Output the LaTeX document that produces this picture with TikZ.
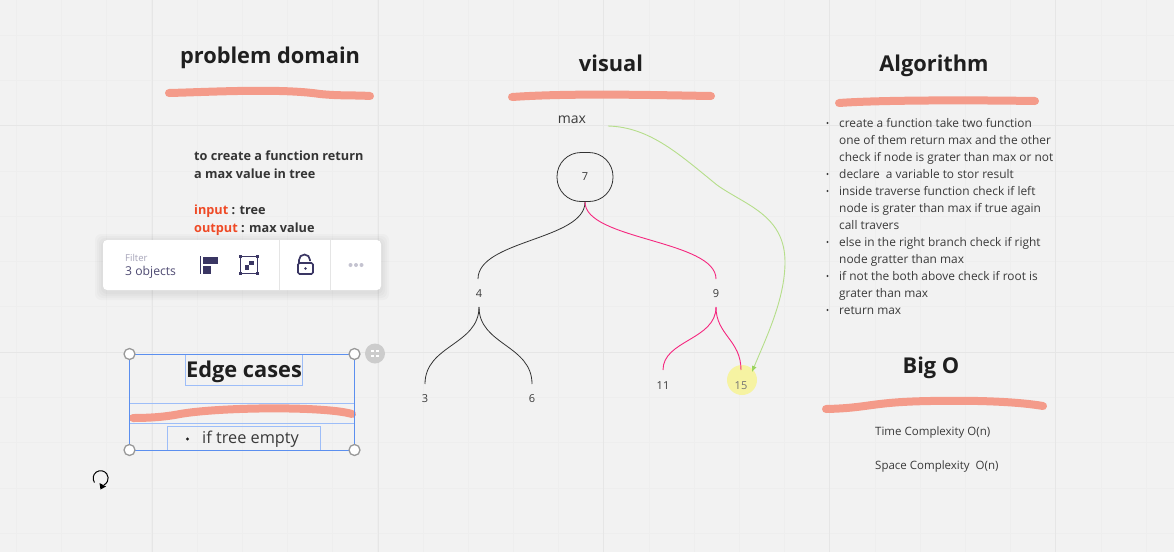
\documentclass[tikz,border=0pt]{standalone}
\usepackage{fontspec}
\setmainfont{Open Sans}
\usetikzlibrary{arrows.meta}
\definecolor{bgc}{HTML}{F2F2F2}
\definecolor{gridminor}{HTML}{EEEEEE}
\definecolor{gridmajor}{HTML}{E6E6E6}
\definecolor{salmon}{HTML}{F49B8A}
\definecolor{ink}{HTML}{1F1F1F}
\definecolor{body}{HTML}{3A3A3A}
\definecolor{hot}{HTML}{F5277F}
\definecolor{lime}{HTML}{B5DE8A}
\definecolor{limehead}{HTML}{9AD45F}
\definecolor{sel}{HTML}{5B8FEF}
\definecolor{selsoft}{HTML}{9DBDF8}
\definecolor{navy}{HTML}{3A3663}
\definecolor{orangered}{HTML}{EF4A26}
\definecolor{marker}{HTML}{F6F3A2}
\tikzset{
  heading/.style={font=\fontsize{21.8}{26}\selectfont\bfseries,text=ink,inner sep=0pt,anchor=base},
  numlabel/.style={font=\fontsize{11}{13}\selectfont,text=body,inner sep=0pt},
  stroke/.style={draw=salmon,line width=8pt,line cap=round,line join=round},
  edgeblack/.style={draw=black!80,line width=0.8pt},
  edgehot/.style={draw=hot,line width=0.9pt},
  textblock/.style={font=\fontsize{11.9}{17}\selectfont,text=body,inner sep=0pt,align=left,anchor=north west},
  selthin/.style={draw=selsoft,line width=1pt},
  handle/.style={circle,draw=black!40,fill=white,line width=1.3pt,minimum size=11pt,inner sep=0pt},
  divider/.style={draw=black!10,line width=0.8pt},
}
\begin{document}
\begin{tikzpicture}[x=1pt,y=-1pt]
\useasboundingbox (0,0) rectangle (1174,552);
\fill[bgc] (0,0) rectangle (1174,552);
% grid
\foreach \i in {0,...,26}{\draw[gridminor,line width=0.7pt] ({-29+45.2*\i},0) -- ({-29+45.2*\i},552);}
\foreach \i in {0,...,12}{\draw[gridminor,line width=0.7pt] (0,{35+45.3*\i}) -- (1174,{35+45.3*\i});}
\foreach \x in {152,378,603,829,1055}{\draw[gridmajor,line width=0.8pt] (\x,0) -- (\x,552);}
\foreach \y in {125,352}{\draw[gridmajor,line width=0.8pt] (0,\y) -- (1174,\y);}

% headings
\node[heading] (hpd) at (270,63.5) {problem domain};
\node[heading] (hvis) at (611,71) {visual};
\node[heading] (halg) at (934,71) {Algorithm};
\node[heading] (hbig) at (931,373) {Big O};

% strokes
\draw[stroke] (169,93) .. controls (210,92) and (280,88) .. (320,94) .. controls (340,96) and (355,95) .. (370,96);
\draw[stroke] (512,97) .. controls (570,93) and (650,95) .. (711,96);
\draw[stroke] (839,103) .. controls (880,100) and (970,100) .. (1035,101);
\draw[stroke] (826,409) .. controls (870,408) and (870,402) .. (930,401) .. controls (980,400) and (1020,402) .. (1043,406);
\draw[stroke] (133,418) .. controls (155,418) and (170,416) .. (180,414) .. controls (220,407) and (325,406) .. (352,414);

% problem domain text
\node[anchor=north west,inner sep=0pt,align=left,font=\fontsize{12.7}{18}\selectfont\bfseries,text=ink!90] (ptext) at (194,150.5)
  {to create a function return\\a max value in tree\\[18pt]{\color{orangered}input} : tree\\{\color{orangered}output} : max value};

% visual
\node[font=\fontsize{14}{17}\selectfont,text=body,inner sep=0pt] (maxl) at (572,119.5) {max};
\node[edgeblack,rounded corners=24pt,minimum width=56pt,minimum height=49pt,inner sep=0pt,numlabel] (n7) at (585,177) {7};
\node[numlabel] (n4) at (479,294) {4};
\node[numlabel] (n9) at (716,294) {9};
\node[numlabel] (n3) at (425,399) {3};
\node[numlabel] (n6) at (532,399) {6};
\node[numlabel] (n11) at (663,386) {11};
\fill[marker] (742,380) circle (15pt);
\node[numlabel,text=black!55] (n15) at (741,386) {15};

\coordinate (a7) at (585,202);
\coordinate (a4t) at (478,279);
\coordinate (a9t) at (716,279);
\coordinate (a4b) at (479,307);
\coordinate (a9b) at (716,307);
\coordinate (a3) at (425,384);
\coordinate (a6) at (532,384);
\coordinate (a11) at (663,370);
\coordinate (a15) at (741,370);
\coordinate (maxout) at (608,126);
\coordinate (maxin) at (752,372);

\draw[edgeblack] (a7) .. controls (585,240) and (478,240) .. (a4t);
\draw[edgehot] (a7) .. controls (585,240) and (716,240) .. (a9t);
\draw[edgeblack] (a4b) .. controls (479,345) and (425,345) .. (a3);
\draw[edgeblack] (a4b) .. controls (479,345) and (532,345) .. (a6);
\draw[edgehot] (a9b) .. controls (716,340) and (663,340) .. (a11);
\draw[edgehot] (a9b) .. controls (716,335) and (741,340) .. (a15);
\draw[draw=lime,line width=0.9pt,-{Latex[length=6pt,width=5pt,color=limehead]}] (maxout) .. controls (650,127) and (680,155) .. (717,185) .. controls (745,205) and (785,215) .. (785,262) .. controls (785,300) and (765,340) .. (maxin);

% algorithm list
\node[textblock] (algtext) at (839,118) {create a function take two function\\one of them return max and the other\\check if node is grater than max or not\\declare\ \ a variable to stor result\\inside traverse function check if left\\node is grater than max if true again\\call travers\\else in the right branch check if right\\node gratter than max\\if not the both above check if root is\\grater than max\\return max};
\foreach \y/\n in {123/a,174/b,191/c,242/d,276/e,310/f}{
  \fill[body] (827.5,\y) circle (1.1pt) coordinate (bul\n);
}

% big O
\node[anchor=west,inner sep=0pt,font=\fontsize{11.5}{14}\selectfont,text=body] (t1) at (875,433) {Time Complexity O(n)};
\node[anchor=west,inner sep=0pt,font=\fontsize{11.5}{14}\selectfont,text=body] (t2) at (875,467) {Space Complexity\ \ O(n)};

% toolbar
\foreach \g in {8,6,4,2}{\fill[black,opacity=0.018,rounded corners=6pt] ({103-\g},{240-\g+2}) rectangle ({381+\g},{290+\g+2});}
\node[draw=none,fill=white,rounded corners=4pt,minimum width=278pt,minimum height=50pt,inner sep=0pt] (bar) at (242,265) {};
\draw[divider] (279.5,240) -- (279.5,290);
\draw[divider] (330.5,240) -- (330.5,290);
\node[anchor=west,inner sep=0pt,font=\fontsize{9.5}{11}\selectfont,text=navy!45] (fl) at (125,258) {Filter};
\node[anchor=west,inner sep=0pt,font=\fontsize{12.2}{14}\selectfont,text=navy!90] (ob) at (125,272.5) {3 objects};
% align icon
\draw[navy,line width=0.9pt] (200.5,256) -- (200.5,274);
\fill[navy] (203,256.5) rectangle (218,264);
\fill[navy] (203,266) rectangle (211,274);
% group icon
\draw[navy,line width=1.6pt] (240.5,256.5) rectangle (257.5,273.5);
\foreach \px/\py in {240.5/256.5,257.5/256.5,240.5/273.5,257.5/273.5}{\fill[navy] ({\px-1.5},{\py-1.5}) rectangle ({\px+1.5},{\py+1.5});}
\fill[navy] (249,260.5) rectangle (254,265);
\fill[navy] (244.5,265) rectangle (249,269.5);
% lock icon
\draw[navy,line width=1.7pt,rounded corners=1.5pt] (298,263) rectangle (313,274);
\draw[navy,line width=1.7pt] (299,263) -- (299,260) arc[start angle=180,end angle=0,radius=5.5pt] -- (310,261);
\fill[navy] (305.5,268.5) circle (1.4pt);
% dots
\foreach \x in {350.5,356,361.5}{\fill[navy!30] (\x,265) circle (2pt);}

% selection
\draw[selthin] (185.5,354) rectangle (302.5,385);
\draw[selthin] (129.5,403.5) rectangle (354.5,423.5);
\draw[selthin] (167.5,426.5) rectangle (320.5,450);
\draw[draw=sel,line width=1pt] (129.5,354) rectangle (354.5,450);
\node[heading] (hedge) at (244,377) {Edge cases};
\fill[ink] (187.5,439) circle (1.6pt);
\node[anchor=west,inner sep=0pt,font=\fontsize{16.3}{19}\selectfont,text=body] (et) at (202,439) {if tree empty};
\node[handle] (h1) at (129.5,354) {};
\node[handle] (h2) at (354.5,354) {};
\node[handle] (h3) at (129.5,450) {};
\node[handle] (h4) at (354.5,450) {};
\fill[black!20] (375,353.5) circle (10pt);
\foreach \dx/\dy in {-2.5/-2.5,2.5/-2.5,-2.5/2.5,2.5/2.5}{\fill[white] ({375+\dx-1.4},{353.5+\dy-1.4}) rectangle ({375+\dx+1.4},{353.5+\dy+1.4});}

% rotate icon
\draw[black,line width=1pt] (94.5,482.5) arc[start angle=215,end angle=-65,radius=7.5pt];
\fill[black] (106,486.5) -- (99.5,483) -- (100.5,489.5) -- cycle;
\end{tikzpicture}
\end{document}
